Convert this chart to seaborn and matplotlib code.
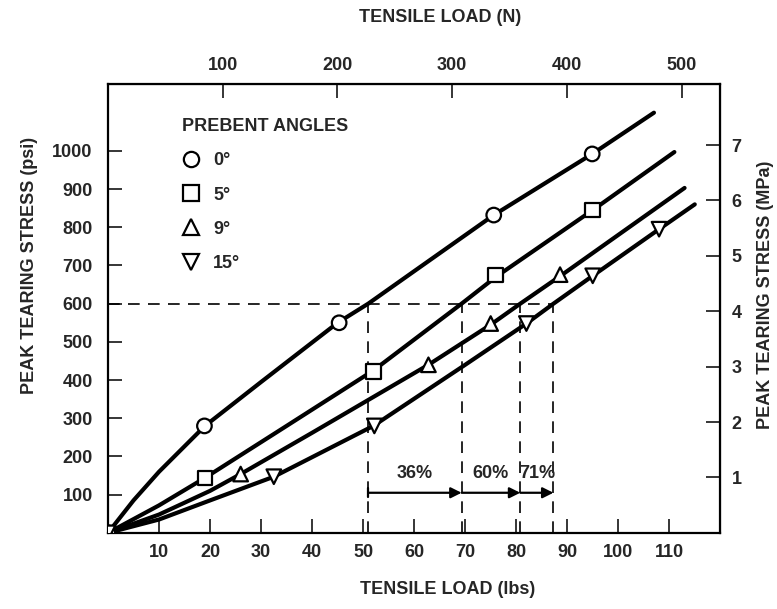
import numpy as np
import pandas as pd
import matplotlib.pyplot as plt
from matplotlib.lines import Line2D
import seaborn as sns

# curve traces (tensile load lbs, peak tearing stress psi)
trace_0_lb = [0, 5, 10, 19, 30, 45, 51, 60, 75.6, 94.9, 107]
trace_0_psi = [0, 85, 160, 280, 395, 550, 600, 685, 832, 992, 1100]
trace_5_lb = [0, 10, 19, 35, 52, 69.3, 76, 95, 111]
trace_5_psi = [0, 72, 144, 280, 425, 600, 670, 845, 997]
trace_9_lb = [0, 10, 20, 26, 40, 62.8, 75, 80.8, 88.6, 113]
trace_9_psi = [0, 48, 110, 154, 262, 440, 545, 600, 672, 903]
trace_15_lb = [0, 10, 20, 32.5, 52, 70, 82, 87.3, 95, 108, 115]
trace_15_psi = [0, 35, 85, 147, 280, 440, 548, 600, 673, 795, 860]

# measured points
pts_0_lb = [0, 18.9, 45.3, 75.6, 94.9]
pts_0_psi = [0, 280, 550, 832, 992]
pts_5_lb = [0, 19, 52, 76, 95]
pts_5_psi = [0, 144, 423, 675, 845]
pts_9_lb = [0, 26, 62.8, 75, 88.6]
pts_9_psi = [0, 154, 440, 548, 676]
pts_15_lb = [0, 32.5, 52.2, 82, 95, 108]
pts_15_psi = [0, 147, 280, 548, 673, 795]

angles = ['0°', '5°', '9°', '15°']
markers = {'0°': 'o', '5°': 's', '9°': '^', '15°': 'v'}

# loads where each curve crosses 600 psi, and the % increase over 0°
cross_psi = 600
cross_lb = [51, 69.3, 80.8, 87.3]
pct_labels = ['36%', '60%', '71%']

x_ticks = [10, 20, 30, 40, 50, 60, 70, 80, 90, 100, 110]
y_ticks = [100, 200, 300, 400, 500, 600, 700, 800, 900, 1000]
n_ticks = [100, 200, 300, 400, 500]
mpa_ticks = [1, 2, 3, 4, 5, 6, 7]

LB_TO_N = 4.448
PSI_TO_MPA = 1 / 145.04

traces = pd.concat([
    pd.DataFrame({'lb': trace_0_lb, 'psi': trace_0_psi, 'angle': '0°'}),
    pd.DataFrame({'lb': trace_5_lb, 'psi': trace_5_psi, 'angle': '5°'}),
    pd.DataFrame({'lb': trace_9_lb, 'psi': trace_9_psi, 'angle': '9°'}),
    pd.DataFrame({'lb': trace_15_lb, 'psi': trace_15_psi, 'angle': '15°'}),
])
points = pd.concat([
    pd.DataFrame({'lb': pts_0_lb, 'psi': pts_0_psi, 'angle': '0°'}),
    pd.DataFrame({'lb': pts_5_lb, 'psi': pts_5_psi, 'angle': '5°'}),
    pd.DataFrame({'lb': pts_9_lb, 'psi': pts_9_psi, 'angle': '9°'}),
    pd.DataFrame({'lb': pts_15_lb, 'psi': pts_15_psi, 'angle': '15°'}),
])

sns.set_style('ticks')
plt.rcParams['font.family'] = ['Liberation Sans', 'DejaVu Sans']
plt.rcParams['font.weight'] = 'bold'
plt.rcParams['axes.labelweight'] = 'bold'
FS = 13

fig = plt.figure(figsize=(7.77, 6.09), dpi=100, facecolor='white')
ax = fig.add_axes([0.139, 0.125, 0.788, 0.737])

# dashed construction lines at 600 psi
ax.plot([0, cross_lb[-1]], [cross_psi, cross_psi], color='black', lw=1.2,
        dashes=(7, 5), zorder=1)
for xc in cross_lb:
    ax.plot([xc, xc], [0, cross_psi], color='black', lw=1.2,
            dashes=(7, 5), zorder=1)

sns.lineplot(data=traces, x='lb', y='psi', units='angle', estimator=None,
             sort=False, color='black', lw=3, ax=ax, zorder=2)
sns.scatterplot(data=points, x='lb', y='psi', style='angle', markers=markers,
                s=110, facecolor='white', edgecolor='black', linewidth=1.6,
                legend=False, ax=ax, zorder=3)

# percent arrows
arrow_psi = 105
ax.plot([cross_lb[0], cross_lb[0]], [arrow_psi - 12, arrow_psi + 12],
        color='black', lw=1.6)
for i, lab in enumerate(pct_labels):
    ax.annotate('', xy=(cross_lb[i + 1], arrow_psi), xytext=(cross_lb[i], arrow_psi),
                arrowprops=dict(arrowstyle='-|>', color='black', lw=1.6,
                                mutation_scale=16, shrinkA=0, shrinkB=0))
    ax.text((cross_lb[i] + cross_lb[i + 1]) / 2, arrow_psi + 28, lab,
            ha='center', va='bottom', fontsize=FS, fontweight='bold')

ax.set_xlim(0, 120)
ax.set_ylim(0, 1175)
ax.set_xticks(x_ticks)
ax.set_yticks(y_ticks)
ax.tick_params(axis='x', direction='in', length=10, width=1.3, labelsize=FS, pad=8)
ax.tick_params(axis='y', direction='in', length=10, width=1.3, labelsize=FS, pad=11)
for sp in ax.spines.values():
    sp.set_linewidth(1.6)
    sp.set_color('black')

ax.set_xlabel('TENSILE LOAD (lbs)', fontsize=FS, fontweight='bold')
ax.set_ylabel('PEAK TEARING STRESS (psi)', fontsize=FS, fontweight='bold')
ax.xaxis.set_label_coords((447 - 108) / 612, -0.108)
ax.yaxis.set_label_coords(-0.115, 0.595)

top = ax.secondary_xaxis('top', functions=(lambda x: x * LB_TO_N,
                                           lambda x: x / LB_TO_N))
top.set_xticks(n_ticks)
top.tick_params(direction='in', length=10, width=1.3, labelsize=FS, pad=7)
fig.text(440 / 777, 1 - 17 / 609, 'TENSILE LOAD (N)', ha='center', va='center',
         fontsize=FS, fontweight='bold')

right = ax.secondary_yaxis('right', functions=(lambda y: y * PSI_TO_MPA,
                                               lambda y: y / PSI_TO_MPA))
right.set_yticks(mpa_ticks)
right.tick_params(direction='in', length=10, width=1.3, labelsize=FS, pad=8)
fig.text(765 / 777, 1 - 295 / 609, 'PEAK TEARING STRESS (MPa)', ha='center',
         va='center', rotation=90, fontsize=FS, fontweight='bold')

# legend built from the plotted markers
handles = [Line2D([], [], linestyle='none', marker=markers[a], markersize=11,
                  markerfacecolor='white', markeredgecolor='black',
                  markeredgewidth=1.6, label=a) for a in angles]
leg = ax.legend(handles=handles, title='PREBENT ANGLES', loc='upper left',
                bbox_to_anchor=(0.095, 0.96), frameon=False, fontsize=FS,
                title_fontsize=FS, handletextpad=0.7, labelspacing=0.95,
                handlelength=1.0)
leg._legend_box.align = 'left'
leg.get_title().set_fontweight('bold')

fig.savefig('out.png', dpi=100, facecolor='white')
